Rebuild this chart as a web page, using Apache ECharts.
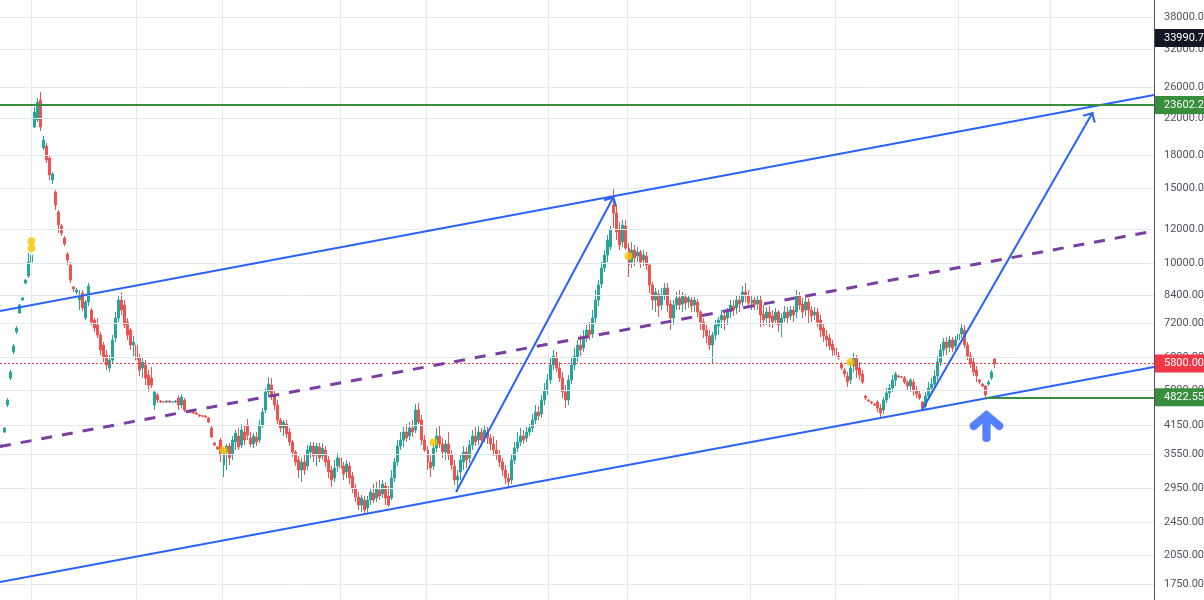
<!DOCTYPE html>
<html>
<head>
<meta charset="utf-8">
<script src="https://cdn.jsdelivr.net/npm/echarts@6/dist/echarts.min.js"></script>
<style>
  html, body { margin: 0; padding: 0; background: #ffffff; }
  #chart { width: 1204px; height: 600px; }
</style>
</head>
<body>
<div id="chart"></div>
<script>
// Daily candles: [open, close, low, high]
const ohlc = [
  [3682,3722,3662,3743],[3994,4083,3973,4105],[4626,4753,4576,4805],[5356,5534,5299,5594],[6170,6373,6103,6443],
  [6877,7028,6803,7105],[7625,7964,7583,8007],[8183,8273,8139,8318],[8974,9122,8926,9172],[9323,10059,9222,10563],
  [10059,10449,9476,10621],[20945,22724,20831,23349],[21757,23992,21522,24518],[24254,20945,20496,25331],[18687,19517,18485,19946],
  [18891,17507,17224,19201],[17699,16137,15705,17990],[15705,16226,15367,16403],[14713,13710,13343,14874],[13199,12299,11775,13343],
  [12233,11775,11585,12365],[11459,11092,10972,11585],[10506,10169,9897,10621],[9897,9122,8974,10059],[8782,8687,8547,8830],
  [8547,8640,8454,8734],[8183,8364,7750,8640],[8500,7835,7708,8640],[7421,8095,7341,8183],[8095,8830,7921,8974],
  [7750,7262,7144,7835],[7341,7028,6877,7421],[7144,6766,6656,7421],[6766,6237,6069,6877],[6408,5971,5843,6514],
  [6069,5748,5594,6237],[5655,5907,5534,6069],[5907,6585,5780,6766],[6656,7421,6514,7666],[7421,8183,7262,8364],
  [8183,7750,7543,8547],[7964,7144,7028,8183],[7262,6766,6585,7421],[6952,6408,6237,7028],[6408,6514,6036,6729],
  [6408,5907,5780,6585],[5971,5594,5415,6103],[5655,5843,5356,5971],[5748,5356,5156,5907],[5444,5156,4965,5594],
  [5356,5156,5072,5686],[4626,4965,4502,5019],[4884,4753,4676,4938],[4727,4702,4676,4753],[4705,4700,4676,4727],
  [4702,4727,4676,4753],[4727,4702,4676,4753],[4702,4705,4676,4727],[4702,4727,4676,4753],[4805,4626,4502,4884],
  [4626,4831,4551,4911],[4753,4502,4453,4805],[4478,4453,4429,4502],[4455,4450,4429,4478],[4453,4429,4405,4478],
  [4429,4405,4381,4453],[4381,4357,4334,4405],[4360,4355,4334,4381],[4357,4334,4310,4381],[4310,4218,4195,4334],
  [4083,3888,3866,4128],[3763,3722,3702,3784],[3682,3642,3623,3702],[3825,3525,3394,3866],[3339,3584,3128,3662],
  [3584,3702,3250,3743],[3702,3468,3339,3763],[3525,3825,3431,3909],[3784,3973,3623,4038],[3909,3682,3623,4083],
  [3722,4038,3662,4172],[3994,3825,3722,4150],[4150,3930,3825,4287],[3866,3743,3682,3994],[3743,3909,3662,3973],
  [3888,3784,3702,3994],[3825,4150,3763,4264],[4150,4453,4083,4551],[4502,4965,4429,5072],[4965,5185,4858,5385],
  [5156,4884,4753,5356],[4884,4626,4502,5019],[4626,4264,4172,4753],[4264,4083,3994,4310],[4083,4218,3909,4264],
  [4172,3951,3866,4264],[3994,3784,3702,4083],[3784,3584,3487,3825],[3584,3394,3321,3623],[3431,3250,3111,3506],
  [3250,3394,3045,3468],[3394,3250,3162,3525],[3321,3623,3250,3722],[3584,3702,3468,3784],[3702,3506,3394,3784],
  [3525,3702,3321,3763],[3682,3468,3394,3763],[3506,3662,3431,3763],[3623,3394,3303,3702],[3431,3215,3111,3506],
  [3250,3078,2963,3321],[3111,3285,3045,3431],[3321,3468,3215,3564],[3468,3285,3128,3525],[3321,3180,3078,3394],
  [3215,3357,3111,3431],[3321,3111,3012,3394],[3145,2931,2868,3215],[2931,2806,2731,3012],[2806,2687,2615,2884],
  [2687,2791,2587,2837],[2761,2615,2545,2822],[2643,2761,2559,2822],[2761,2884,2687,2931],[2868,2761,2716,3012],
  [2791,2931,2731,3045],[2915,2822,2761,3078],[2852,3012,2791,3078],[2979,2791,2687,3045],[2822,2687,2658,2979],
  [2791,3111,2761,3250],[3111,3394,3045,3468],[3394,3702,3321,3825],[3702,3825,3623,3994],[3825,3994,3682,4105],
  [3994,3866,3784,4172],[3909,4083,3825,4218],[4083,3994,3888,4264],[4038,4502,3973,4651],[4502,4218,4172,4676],
  [4264,3825,3722,4381],[3825,3623,3584,3930],[3623,3394,3250,3702],[3394,3285,3128,3525],[3321,3662,3250,3763],
  [3662,3909,3584,4083],[3909,3743,3662,4150],[3743,3584,3468,3866],[3584,3743,3431,3825],[3743,3525,3431,3994],
  [3525,3339,3250,3623],[3321,3078,2995,3431],[3078,3145,2884,3250],[3215,3431,3078,3525],[3394,3584,3250,3702],
  [3584,3431,3285,3682],[3468,3722,3375,3825],[3722,3909,3623,4038],[3909,3784,3702,4105],[3825,3994,3722,4150],
  [3994,3825,3682,4083],[3866,4038,3784,4128],[3994,3866,3743,4105],[3866,3743,3623,3951],[3743,3623,3506,3909],
  [3623,3525,3431,3825],[3525,3394,3303,3623],[3394,3250,3145,3468],[3250,3111,3012,3339],[3111,3045,2963,3197],
  [3078,3431,3012,3525],[3431,3662,3357,3784],[3662,3784,3584,3994],[3784,3909,3702,4083],[3909,3825,3743,4038],
  [3866,3994,3784,4105],[3994,4083,3909,4172],[4083,4264,3994,4405],[4264,4453,4172,4626],[4453,4357,4264,4601],
  [4405,4753,4310,4884],[4753,5019,4626,5213],[5019,5299,4884,5474],[5299,5748,5185,5971],[5748,6036,5594,6237],
  [5971,5655,5534,6170],[5655,5356,5242,5843],[5356,4965,4805,5534],[4965,4753,4551,5156],[4753,5299,4626,5444],
  [5299,5748,5185,5971],[5748,6036,5594,6304],[5971,6408,5843,6585],[6408,6237,6036,6766],[6304,6656,6170,6952],
  [6656,6952,6514,7144],[6952,6766,6585,7262],[6803,7421,6656,7750],[7421,8183,7183,8640],[8183,8878,7921,9122],
  [8926,9737,8734,10059],[9737,10449,9528,10737],[10449,11336,10059,11648],[10913,11969,10737,12233],[13710,13127,12100,15037],
  [13127,11840,11336,13710],[11969,11032,10737,12500],[11214,12299,10913,12637],[12233,10853,10737,12637],[10853,9897,9273,11153],
  [10059,10737,9737,11214],[10737,10280,9844,11032],[10393,10621,10059,10913],[10621,10059,9737,10737],[10169,10449,9844,10737],
  [10393,9897,9632,10621],[9897,8878,8500,10004],[8878,8183,7750,9023],[8183,8547,7666,8734],[8454,7921,7462,8640],
  [7964,8409,7750,8734],[8364,8734,8183,8974],[8734,7964,7666,8974],[8007,7421,6952,8183],[7421,7964,7144,8183],
  [7964,8273,7750,8547],[8273,7964,7750,8640],[8007,8364,7666,8547],[8318,8051,7750,8454],[8095,8273,7835,8364],
  [8183,7921,7666,8318],[7964,8183,7666,8318],[8095,7666,7462,8228],[7666,7262,6952,7750],[7262,6952,6656,7421],
  [6952,6729,6478,7144],[6729,6408,6237,6952],[6408,6766,5780,6877],[6766,7144,6585,7341],[7105,7341,6766,7462],
  [7341,7543,7028,7750],[7503,7341,6952,7708],[7421,7666,7144,7835],[7666,7964,7421,8183],[7921,7750,7503,8183],
  [7835,8183,7583,8364],[8183,8007,7666,8409],[8095,8547,7921,8830],[8547,8364,8095,8974],[8364,8051,7835,8640],
  [8051,8183,7750,8364],[8183,7964,7750,8318],[8007,8183,7750,8409],[8183,7543,7067,8364],[7583,7341,7105,7964],
  [7421,7666,7144,7878],[7666,7421,7067,7921],[7503,7262,7028,7750],[7341,7666,7183,7835],[7666,7144,6877,7750],
  [7183,7421,6693,7625],[7421,7666,7262,7921],[7666,7421,7222,7878],[7503,7750,7341,7921],[7750,7543,7262,7921],
  [7666,8364,7421,8640],[8364,7964,7750,8547],[8007,7666,7421,8273],[7750,8095,7503,8273],[8095,7750,7222,8273],
  [7750,7503,7262,7921],[7543,7666,7341,7878],[7666,7262,7067,7835],[7341,6952,6693,7543],[7028,6729,6514,7222],
  [6729,6585,6339,6952],[6656,6373,6237,6803],[6443,6237,6036,6585],[6304,6069,5907,6408],[6036,5971,5907,6170],
  [5780,5655,5594,5843],[5594,5474,5385,5655],[5415,5242,5100,5534],[5299,5655,5185,5843],[5717,5971,5534,6136],
  [5971,5594,5356,6069],[5655,5444,5299,5843],[5474,5242,5185,5594],[4858,4805,4753,4884],[4753,4727,4702,4779],
  [4702,4676,4651,4727],[4651,4626,4601,4676],[4702,4551,4453,4753],[4551,4429,4334,4651],[4502,4753,4405,4831],
  [4753,4938,4676,5072],[4938,5072,4805,5185],[5072,5299,4965,5444],[5299,5474,5128,5534],[5415,5385,5356,5444],
  [5390,5380,5356,5415],[5356,5242,5185,5415],[5242,5128,5019,5299],[5128,5299,4965,5356],[5242,5019,4858,5327],
  [5019,4911,4805,5128],[4911,4805,4753,5019],[4702,4551,4478,4727],[4601,4858,4502,4965],[4858,5072,4753,5242],
  [5072,5185,4911,5356],[5185,5415,5019,5594],[5415,5843,5299,6036],[5843,6237,5717,6443],[6237,6514,6036,6656],
  [6514,6304,6069,6693],[6339,6585,6170,6729],[6585,6304,6170,6693],[6373,6585,6237,6729],[6585,6803,6408,6952],
  [6803,7028,6656,7222],[6952,6408,6304,7144],[6408,6036,5907,6514],[6036,5780,5655,6170],[5843,5534,5415,5971],
  [5594,5415,5242,5717],[5299,5242,5185,5328],[5185,5128,5100,5213],[5128,4884,4822.55,5156],[5185,5242,5128,5299],
  [5356,5534,5299,5594],[5939,5800,5655,6003]
];

// Price scale ticks (log scale)
const priceTicks = [38000, 32000, 26000, 22000, 18000, 15000, 12000, 10000, 8400, 7200, 6000, 5000, 4150, 3550, 2950, 2450, 2050, 1750];
// Period boundaries on the time scale (bar index)
const timeMarks = [9.83, 44.83, 73.5, 112.83, 141.5, 182.17, 208.5, 249.5, 277.83, 318.83, 349.5];

// Rising channel: [bar, price] end points
const channelUpper = [[-0.5, 7708], [384.17, 24922]];
const channelLower = [[-0.5, 1769], [384.17, 5686]];
const channelMid = [[-0.5, 3693], [384.17, 11904]];

// Swing projections from channel bottom to channel top
const swingArrows = [
  [[151.5, 2883], [204.17, 14397]],
  [[306.83, 4502], [363.83, 22723]]
];

const highTag = 33990.7;
const targetLevel = 23602.2;
const lastPrice = 5800;
const supportLevel = 4822.55;
const supportStartBar = 328;

// Corporate-event markers [bar, price]
const eventDots = [[10, 11256], [10, 10837], [74, 3617], [144, 3777], [209, 10392], [283, 5834]];
// Bounce marker under the latest swing low [bar, price]
const bounceMark = [328.33, 4127];

// Visible bar window (three pixels per bar across the plot)
const X_MIN = -0.5, X_MAX = 384.17;
const Y_MIN = 1604, Y_MAX = 41757;

const UP = '#26a69a', DOWN = '#ef5350';
const BLUE = '#2962ff', GREEN = '#388e3c', PURPLE = '#7b3fa3', RED = '#f23645';
const GRID_COLOR = '#e3e9f0';
const AXIS_TEXT = '#50535e';
const FONT = 'Roboto, "Liberation Sans", sans-serif';

// Open chevron head; the empty first sub-path centres the apex on the line end
const CHEVRON = 'path://M10,-12L10,-12M10,0L20,10L18,12L10,4L2,12L0,10Z';
// Bold up arrow with rounded ends
const BOLD_UP = 'path://M17,0L32,13A4,4,0,0,1,26.5,19L21,13.5L21,28A4,4,0,0,1,13,28L13,13.5L7.5,19A4,4,0,0,1,2,13Z';

function tagLabel(bg, text) {
  return {
    show: true, position: 'end', distance: 1,
    backgroundColor: bg, color: '#ffffff',
    padding: [4, 4, 3, 9], fontSize: 11, fontFamily: FONT,
    formatter: text
  };
}

function segment(points, lineStyle, endOpts) {
  return [
    { coord: points[0], lineStyle: lineStyle },
    Object.assign({ coord: points[1] }, endOpts || {})
  ];
}

const chart = echarts.init(document.getElementById('chart'), null, { renderer: 'canvas' });

const blueLine = { color: BLUE, width: 2, type: 'solid' };

const option = {
  animation: false,
  backgroundColor: '#ffffff',
  grid: { left: 0, right: 50, top: 0, bottom: 0 },
  xAxis: {
    type: 'value', min: X_MIN, max: X_MAX,
    axisLine: { show: false }, axisTick: { show: false },
    axisLabel: { show: false }, splitLine: { show: false }
  },
  yAxis: {
    type: 'log', logBase: 10, min: Y_MIN, max: Y_MAX, position: 'right',
    axisLine: { show: true, onZero: false, lineStyle: { color: AXIS_TEXT, width: 1 } },
    axisTick: { show: false }, axisLabel: { show: false }, splitLine: { show: false }
  },
  series: [
    {
      // grid lines and price scale labels
      type: 'line', data: [], z: 1, silent: true,
      markLine: {
        silent: true, symbol: 'none', animation: false,
        lineStyle: { color: GRID_COLOR, width: 1, type: 'solid' },
        emphasis: { disabled: true },
        label: {
          show: true, position: 'end', distance: 10,
          color: AXIS_TEXT, fontSize: 11, fontFamily: FONT,
          formatter: p => Number(p.value).toFixed(2)
        },
        data: priceTicks.map(v => ({ yAxis: v }))
          .concat(timeMarks.map(x => ({ xAxis: x, label: { show: false } })))
      }
    },
    {
      type: 'candlestick', z: 2, silent: true,
      barWidth: 2,
      dimensions: ['bar', 'open', 'close', 'lowest', 'highest'],
      encode: { x: 0, y: [1, 2, 3, 4] },
      data: ohlc.map((d, i) => [i, d[0], d[1], d[2], d[3]]),
      itemStyle: { color: UP, color0: DOWN, borderColor: UP, borderColor0: DOWN, borderWidth: 1 }
    },
    {
      // last price line
      type: 'line', data: [], z: 3, silent: true,
      markLine: {
        silent: true, symbol: 'none', animation: false,
        emphasis: { disabled: true },
        data: [
          { yAxis: lastPrice, lineStyle: { color: RED, width: 1, type: [2, 2] }, label: tagLabel(RED, lastPrice.toFixed(2)) }
        ]
      }
    },
    {
      // channel, projections and levels
      type: 'line', data: [], z: 4, silent: true,
      markLine: {
        silent: true, symbol: 'none', animation: false,
        emphasis: { disabled: true },
        label: { show: false },
        data: [
          segment(channelUpper, blueLine),
          segment(channelLower, blueLine),
          segment(channelMid, { color: PURPLE, width: 3, type: [11, 10] }),
          segment(swingArrows[0], blueLine, { symbol: CHEVRON, symbolSize: [15, 18] }),
          segment(swingArrows[1], blueLine, { symbol: CHEVRON, symbolSize: [15, 18] }),
          [
            { coord: [X_MIN, targetLevel], lineStyle: { color: GREEN, width: 2, type: 'solid' }, label: tagLabel(GREEN, targetLevel.toFixed(2)) },
            { coord: [X_MAX, targetLevel] }
          ],
          [
            { coord: [supportStartBar, supportLevel], lineStyle: { color: GREEN, width: 2, type: 'solid' }, label: tagLabel(GREEN, supportLevel.toFixed(2)) },
            { coord: [X_MAX, supportLevel] }
          ],
          { yAxis: highTag, lineStyle: { color: 'transparent', width: 0 }, label: tagLabel('#131722', highTag.toFixed(2)) }
        ]
      }
    },
    {
      type: 'scatter', z: 5, silent: true,
      symbolSize: 8,
      itemStyle: { color: '#f7c600' },
      data: eventDots
    },
    {
      type: 'scatter', z: 5, silent: true,
      symbol: BOLD_UP, symbolSize: [34, 32],
      itemStyle: { color: BLUE },
      data: [bounceMark]
    }
  ]
};

chart.setOption(option);
</script>
</body>
</html>
